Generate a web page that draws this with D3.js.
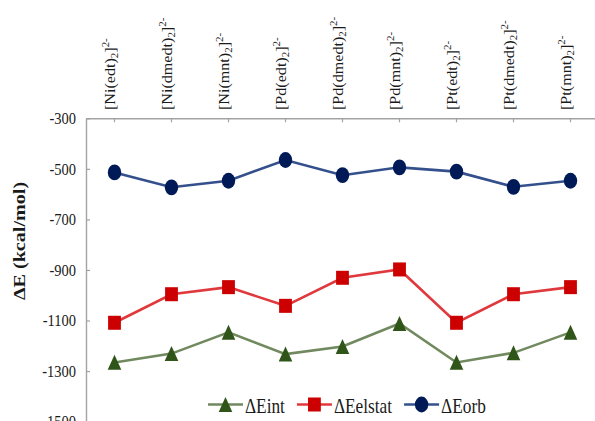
<!DOCTYPE html>
<html>
<head>
<meta charset="utf-8">
<script src="https://cdn.jsdelivr.net/npm/d3@7"></script>
</head>
<body style="margin:0;background:#fff">
<svg id="chart" width="595" height="421" style="display:block"></svg>
<script>
// Complexes along the category axis
const categories = ["Ni(edt)", "Ni(dmedt)", "Ni(mnt)", "Pd(edt)", "Pd(dmedt)", "Pd(mnt)", "Pt(edt)", "Pt(dmedt)", "Pt(mnt)"];

// Energy decomposition terms (kcal/mol)
const eInt     = [-1266, -1231, -1147, -1233, -1203, -1112, -1266, -1228, -1147];
const eElstat  = [-1109,  -996,  -968, -1042,  -931,  -898, -1109,  -996,  -968];
const eOrb     = [ -514,  -573,  -547,  -465,  -525,  -494,  -511,  -571,  -547];

const seriesNames = ["\u0394Eint", "\u0394Eelstat", "\u0394Eorb"];
const yTicks = [-300, -500, -700, -900, -1100, -1300, -1500];

const series = [
  { name: seriesNames[0], values: eInt,    line: "#71895f", fill: "#2f5519", shape: "triangle" },
  { name: seriesNames[1], values: eElstat, line: "#e0393d", fill: "#cc0000", shape: "square" },
  { name: seriesNames[2], values: eOrb,    line: "#34508c", fill: "#001a57", shape: "circle" }
];

const FONT = "'Liberation Serif'";
const svg = d3.select("#chart");
const stretch = 1.15; // vertical text stretch

const plotLeft = 86, plotTop = 118.3, plotBottom = 421.6, plotRight = 599;

const x = d3.scaleBand().domain(categories).range([plotLeft, plotRight]).padding(0);
const y = d3.scaleLinear().domain([-1500, -300]).range([plotBottom, plotTop]);
const cx = c => x(c) + x.bandwidth() / 2;

// Category axis along the top edge
const xAxis = svg.append("g")
  .attr("transform", `translate(0,${plotTop})`)
  .call(d3.axisTop(x).tickSizeInner(-4).tickSizeOuter(0).tickFormat(""));
xAxis.selectAll("text").remove();
xAxis.select(".domain").attr("stroke", "#a3a3a3").attr("stroke-width", 1.4);
xAxis.selectAll(".tick line").attr("stroke", "#a3a3a3").attr("stroke-width", 1.2);

// Value axis (plain hyphen for the minus sign)
const yAxis = svg.append("g")
  .attr("transform", `translate(${plotLeft},0)`)
  .call(d3.axisLeft(y).tickValues(yTicks).tickSizeInner(-4).tickSizeOuter(0).tickPadding(10)
    .tickFormat(d => String(d)));
yAxis.select(".domain").attr("stroke", "#a3a3a3").attr("stroke-width", 1.4);
yAxis.selectAll(".tick line").attr("stroke", "#a3a3a3").attr("stroke-width", 1.2);
yAxis.selectAll(".tick text")
  .style("font-size", "14.5px")
  .attr("fill", "#1a1a1a")
  .attr("transform", `scale(1,${stretch})`);

// Rotated complex labels: [M(L)2]2-
const labels = svg.append("g");
categories.forEach(c => {
  const t = labels.append("text")
    .attr("transform", `translate(${cx(c) + 0.5},110) scale(1,${stretch}) rotate(-90)`)
    .attr("text-anchor", "start")
    .style("font-size", "14px")
    .attr("fill", "#1a1a1a");
  t.append("tspan").text("[" + c);
  t.append("tspan").style("font-size", "9.5px").attr("dy", 3).text("2");
  t.append("tspan").attr("dy", -3).text("]");
  t.append("tspan").style("font-size", "9.5px").attr("dy", -6).text("2-");
});

// Axis title
svg.append("text")
  .attr("transform", `translate(25,241) scale(1,${stretch}) rotate(-90)`)
  .attr("text-anchor", "middle")
  .style("font-size", "17.5px")
  .style("font-weight", "bold")
  .attr("fill", "#1a1a1a")
  .text("\u0394E (kcal/mol)");

// Marker drawing
function marker(g, shape, fill) {
  if (shape === "circle") {
    g.append("ellipse").attr("rx", 6.7).attr("ry", 7.9).attr("fill", fill);
  } else if (shape === "square") {
    g.append("rect").attr("x", -6.4).attr("y", -7).attr("width", 12.8).attr("height", 14).attr("fill", fill);
  } else {
    g.append("path").attr("d", "M0,-7.6L6.8,7.4L-6.8,7.4Z").attr("fill", fill);
  }
}

const line = d3.line().x((d, i) => cx(categories[i])).y(d => y(d));

series.forEach(s => {
  const g = svg.append("g");
  g.append("path")
    .datum(s.values)
    .attr("d", line)
    .attr("fill", "none")
    .attr("stroke", s.line)
    .attr("stroke-width", 2.6);
  s.values.forEach((v, i) => {
    const m = g.append("g").attr("transform", `translate(${cx(categories[i])},${y(v)})`);
    marker(m, s.shape, s.fill);
  });
});

// Legend
const legend = svg.append("g");
let lx = 208;
const ly = 404.5;
series.forEach(s => {
  const item = legend.append("g").attr("transform", `translate(${lx},${ly})`);
  item.append("line").attr("x1", 0).attr("x2", 35).attr("y1", 0).attr("y2", 0)
    .attr("stroke", s.line).attr("stroke-width", 2.6);
  const m = item.append("g").attr("transform", "translate(17.5,0)");
  marker(m, s.shape, s.fill);
  const t = item.append("text")
    .attr("transform", `translate(37,8.5) scale(1,${stretch})`)
    .style("font-family", FONT)
    .style("font-size", "17.3px")
    .attr("fill", "#1a1a1a")
    .text(s.name);
  lx += 37 + t.node().getComputedTextLength() + 12;
});

// Serif face on every text element
svg.selectAll("text, tspan").style("font-family", FONT);
</script>
</body>
</html>
